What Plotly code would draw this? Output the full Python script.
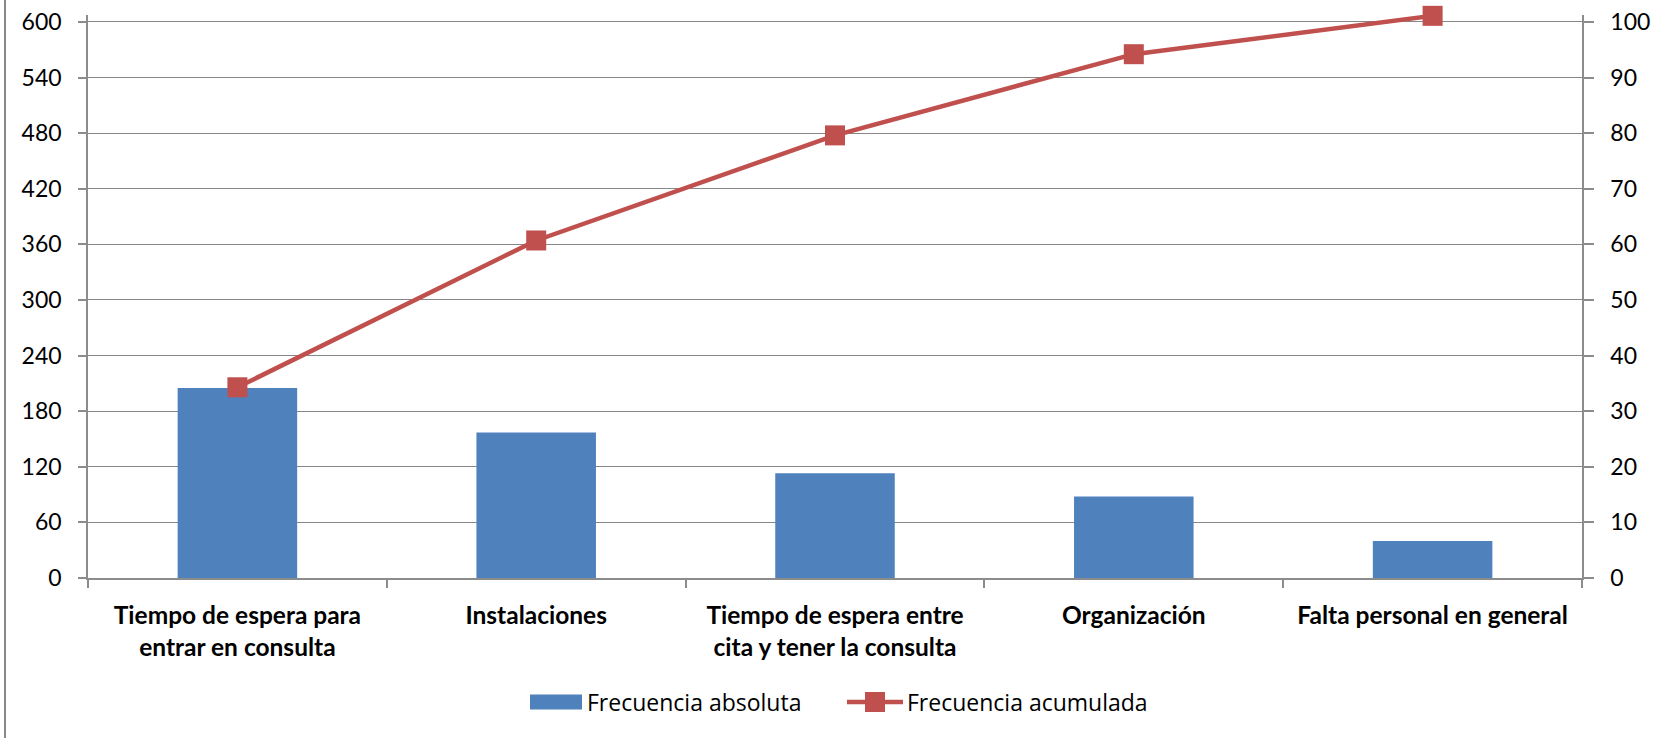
import plotly.graph_objects as go

categories = [
    "Tiempo de espera para<br>entrar en consulta",
    "Instalaciones",
    "Tiempo de espera entre<br>cita y tener la consulta",
    "Organización",
    "Falta personal en general",
]
frecuencia_absoluta = [205, 157, 113, 88, 40]
frecuencia_acumulada = [34.3, 60.7, 79.6, 94.2, 101.1]
series_names = ["Frecuencia absoluta", "Frecuencia acumulada"]

left_ticks = list(range(0, 601, 60))
right_ticks = list(range(0, 101, 10))

W, H = 1660, 738
L, R, T, B = 88, 78, 15, 160
pw, ph = W - L - R, H - T - B
left_top = 607.5           # axis extends slightly above the last gridline
right_top = left_top / 6.0

bar_col = "#4F81BD"
line_col = "#C0504D"
grid_col = "#878787"
axis_col = "#8C8C8C"
font_family = "Lato, 'Open Sans', sans-serif"
wide_font = "'Open Sans', Lato, sans-serif"


def px(x):
    return (x - L) / pw


def py(y):
    return (H - B - y) / ph


fig = go.Figure()
fig.add_trace(go.Bar(
    x=categories, y=frecuencia_absoluta, name=series_names[0],
    marker=dict(color=bar_col, line=dict(width=0)),
    yaxis="y", showlegend=False,
))
fig.add_trace(go.Scatter(
    x=categories, y=frecuencia_acumulada, name=series_names[1],
    mode="lines+markers",
    line=dict(color=line_col, width=4.5),
    marker=dict(symbol="square", size=20, color=line_col),
    yaxis="y2", cliponaxis=False, showlegend=False,
))

# legend drawn as shapes + text (to match the wide swatches of the original)
legend_y = 702
shapes = [
    dict(type="line", xref="paper", yref="paper",
         x0=px(5), x1=px(5), y0=py(0), y1=py(H),
         line=dict(color="#888888", width=2)),
    dict(type="rect", xref="paper", yref="paper",
         x0=px(530), x1=px(582), y0=py(legend_y - 7.5), y1=py(legend_y + 7.5),
         fillcolor=bar_col, line=dict(width=0)),
    dict(type="line", xref="paper", yref="paper",
         x0=px(847), x1=px(903), y0=py(legend_y), y1=py(legend_y),
         line=dict(color=line_col, width=4.5)),
    dict(type="rect", xref="paper", yref="paper",
         x0=px(865), x1=px(885), y0=py(legend_y - 10), y1=py(legend_y + 10),
         fillcolor=line_col, line=dict(width=0)),
]
annotations = [
    dict(text=series_names[0], xref="paper", yref="paper", x=px(585), y=py(legend_y),
         xanchor="left", yanchor="middle", showarrow=False,
         font=dict(family=wide_font, size=23, color="black")),
    dict(text=series_names[1], xref="paper", yref="paper", x=px(905), y=py(legend_y),
         xanchor="left", yanchor="middle", showarrow=False,
         font=dict(family=wide_font, size=23, color="black")),
]

fig.update_layout(
    width=W, height=H,
    margin=dict(l=L, r=R, t=T, b=B, pad=0, autoexpand=False),
    paper_bgcolor="white", plot_bgcolor="white",
    font=dict(family=font_family, size=22, color="black"),
    bargap=0.6,
    showlegend=False,
    xaxis=dict(
        type="category", automargin=False, tickangle=0,
        showline=True, linecolor=axis_col, linewidth=1.5,
        ticks="outside", tickson="boundaries", ticklen=8, tickcolor=axis_col, tickwidth=1.5,
        showgrid=False,
        tickfont=dict(size=24.5, family=font_family, color="black", weight="bold"),
        ticklabelstandoff=15,
    ),
    yaxis=dict(
        range=[0, left_top], tickvals=left_ticks, ticktext=[str(v) for v in left_ticks],
        automargin=False,
        showline=True, linecolor=axis_col, linewidth=1.5,
        ticks="outside", ticklen=8, tickcolor=axis_col, tickwidth=1.5,
        showgrid=True, gridcolor=grid_col, gridwidth=1.3,
        zeroline=False,
        tickfont=dict(size=23, family=font_family, color="black"),
        ticklabelstandoff=12,
    ),
    yaxis2=dict(
        range=[0, right_top], tickvals=right_ticks, ticktext=[str(v) for v in right_ticks],
        overlaying="y", side="right", automargin=False,
        showline=True, linecolor=axis_col, linewidth=1.5,
        ticks="outside", ticklen=10, tickcolor=axis_col, tickwidth=1.5,
        showgrid=False, zeroline=False,
        tickfont=dict(size=23, family=font_family, color="black"),
        ticklabelstandoff=12,
    ),
    shapes=shapes,
    annotations=annotations,
)

fig.write_html("out.html", config={"displayModeBar": False},
               post_script="document.body.style.margin='0';")
